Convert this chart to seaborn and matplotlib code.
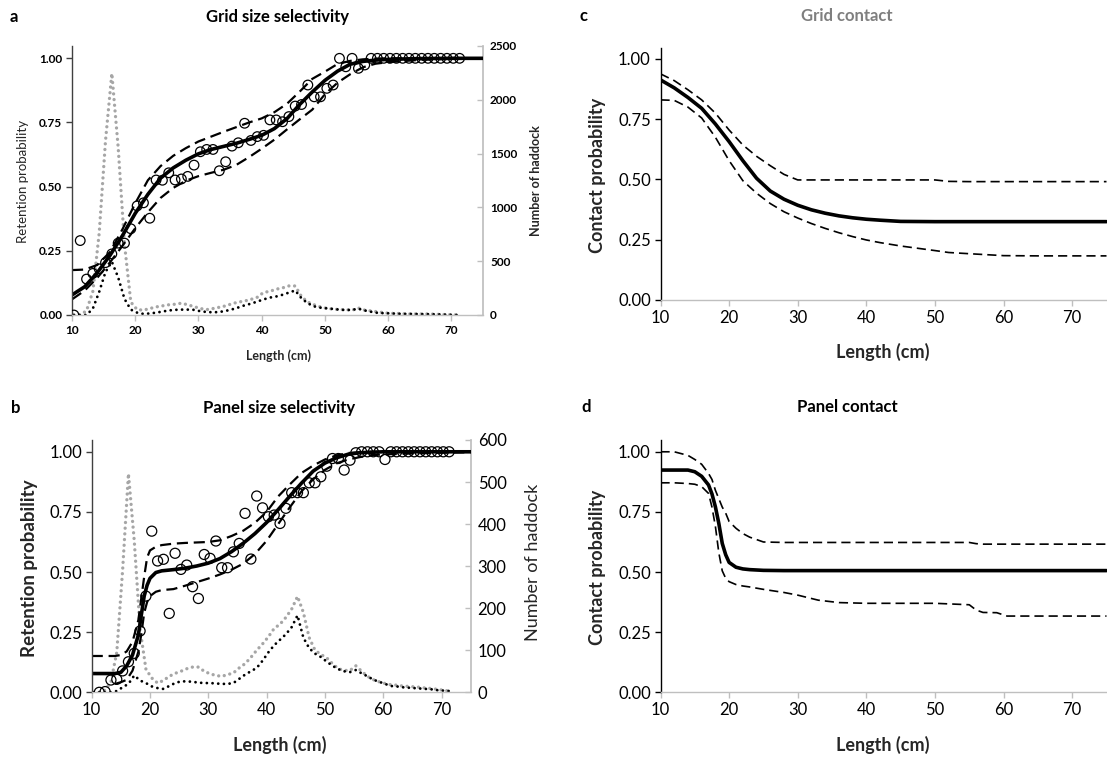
import numpy as np
import pandas as pd
import matplotlib
matplotlib.use("Agg")
import matplotlib.pyplot as plt
from matplotlib.ticker import FormatStrFormatter
import seaborn as sns

sns.set_theme(style="ticks")
plt.rcParams['font.family'] = ['Lato', 'DejaVu Sans']

# length classes (cm) used for observed retention and catch numbers
lengths = np.arange(10.3, 71.4, 1.0)

# ---- panel a: grid size selectivity ----
ret_a = [0.00, 0.29, 0.14, 0.162, 0.18, 0.204, 0.238, 0.28, 0.28, 0.336,
         0.425, 0.437, 0.377, 0.526, 0.525, 0.554, 0.526, 0.53, 0.54, 0.584,
         0.636, 0.645, 0.645, 0.562, 0.597, 0.658, 0.671, 0.747, 0.68, 0.695,
         0.70, 0.76, 0.76, 0.753, 0.773, 0.814, 0.82, 0.896, 0.85, 0.85,
         0.883, 0.896, 1.0, 0.967, 1.0, 0.961, 0.974, 1.0, 1.0, 1.0,
         1.0, 1.0, 1.0, 1.0, 1.0, 1.0, 1.0, 1.0, 1.0, 1.0, 1.0, 1.0]
grey_a = [0, 0, 40, 220, 760, 1620, 2245, 1560, 660, 120,
          50, 45, 60, 75, 85, 95, 100, 110, 95, 78,
          60, 50, 60, 72, 85, 105, 120, 130, 145, 165,
          210, 220, 240, 252, 270, 270, 170, 120, 95, 75,
          62, 55, 50, 50, 45, 65, 45, 38, 30, 22,
          15, 15, 12, 10, 10, 10, 10, 8, 5, 4, 2, 0]
black_a = [0, 0, 0, 60, 215, 400, 495, 350, 150, 50,
           22, 10, 14, 22, 32, 42, 48, 50, 50, 48,
           35, 28, 25, 28, 38, 52, 70, 90, 105, 125,
           145, 162, 172, 188, 208, 228, 155, 108, 80, 68,
           62, 56, 50, 46, 48, 58, 42, 30, 20, 17,
           15, 12, 10, 10, 9, 8, 7, 6, 5, 3, 1, 0]
fit_a_x = [10, 12, 14, 16, 18, 20, 22, 24, 26, 28, 30, 32, 34, 36, 38, 40,
           42, 44, 46, 48, 50, 52, 54, 56, 58, 60, 65, 70, 75]
fit_a = [0.078, 0.11, 0.165, 0.232, 0.31, 0.396, 0.47, 0.533, 0.573, 0.603,
         0.628, 0.645, 0.657, 0.669, 0.684, 0.70, 0.726, 0.765, 0.82, 0.869,
         0.914, 0.95, 0.977, 0.988, 0.993, 0.996, 0.999, 1.0, 1.0]
up_a = [0.175, 0.177, 0.195, 0.245, 0.335, 0.435, 0.525, 0.58, 0.62, 0.65,
        0.676, 0.695, 0.714, 0.732, 0.75, 0.766, 0.79, 0.823, 0.87, 0.92,
        0.948, 0.978, 0.99, 0.996, 0.999, 1.0, 1.0, 1.0, 1.0]
lo_a = [0.061, 0.095, 0.145, 0.205, 0.27, 0.338, 0.40, 0.456, 0.495, 0.523,
        0.541, 0.554, 0.566, 0.585, 0.615, 0.648, 0.683, 0.723, 0.762, 0.80,
        0.86, 0.905, 0.938, 0.965, 0.979, 0.985, 0.994, 0.998, 1.0]

# ---- panel b: panel size selectivity ----
ret_b = [np.nan, 0.0, 0.003, 0.051, 0.054, 0.089, 0.127, 0.162, 0.255, 0.40,
         0.67, 0.546, 0.553, 0.328, 0.578, 0.511, 0.529, 0.439, 0.39, 0.573,
         0.557, 0.629, 0.518, 0.518, 0.584, 0.619, 0.744, 0.554, 0.816, 0.767,
         0.73, 0.737, 0.702, 0.765, 0.83, 0.83, 0.83, 0.871, 0.871, 0.896,
         0.94, 0.972, 0.972, 0.924, 0.965, 0.996, 1.0, 1.0, 1.0, 1.0,
         0.968, 1.0, 1.0, 1.0, 1.0, 1.0, 1.0, 1.0, 1.0, 1.0, 1.0, 1.0]
grey_b = [0, 0, 5, 25, 95, 290, 520, 360, 150, 55,
          34, 22, 28, 38, 45, 50, 56, 60, 60, 50,
          44, 40, 38, 42, 46, 58, 68, 83, 100, 115,
          132, 152, 162, 178, 198, 228, 190, 130, 100, 90,
          82, 68, 56, 52, 52, 63, 50, 38, 30, 25,
          21, 18, 17, 15, 14, 13, 12, 10, 9, 7, 5, 3]
black_b = [0, 0, 0, 0, 3, 12, 20, 40, 28, 22,
           14, 10, 8, 15, 22, 26, 26, 25, 23, 22,
           22, 21, 20, 20, 22, 32, 42, 50, 58, 75,
           95, 112, 125, 138, 155, 183, 130, 105, 92, 84,
           73, 63, 55, 50, 48, 53, 45, 38, 30, 25,
           20, 15, 14, 12, 11, 10, 9, 8, 7, 5, 4, 3]
fit_b_x = [10, 14, 15, 16, 17, 18, 18.5, 19, 19.5, 20, 21, 22, 24, 26, 28, 30,
           32, 34, 36, 38, 40, 42, 44, 46, 48, 50, 52, 54, 56, 58, 60, 65, 70, 75]
fit_b = [0.078, 0.078, 0.083, 0.11, 0.155, 0.238, 0.32, 0.40, 0.445, 0.474,
         0.498, 0.505, 0.51, 0.516, 0.525, 0.537, 0.556, 0.585, 0.62, 0.66,
         0.706, 0.76, 0.816, 0.87, 0.92, 0.953, 0.975, 0.99, 0.996, 0.998,
         1.0, 1.0, 1.0, 1.0]
up_b = [0.151, 0.151, 0.155, 0.17, 0.21, 0.30, 0.39, 0.48, 0.56, 0.59,
        0.605, 0.612, 0.618, 0.621, 0.623, 0.625, 0.632, 0.65, 0.672, 0.705,
        0.75, 0.815, 0.865, 0.912, 0.943, 0.968, 0.985, 0.995, 0.998, 1.0,
        1.0, 1.0, 1.0, 1.0]
lo_b = [np.nan, 0.035, 0.042, 0.052, 0.09, 0.169, 0.24, 0.33, 0.375, 0.40,
        0.418, 0.425, 0.429, 0.443, 0.458, 0.473, 0.49, 0.51, 0.535, 0.575,
        0.63, 0.70, 0.77, 0.836, 0.886, 0.925, 0.952, 0.968, 0.978, 0.986,
        0.989, 0.993, 0.996, 0.998]

# ---- panel c: grid contact ----
fit_c_x = [10, 12, 14, 16, 18, 20, 22, 24, 26, 28, 30, 32, 34, 36, 38, 40,
           42, 45, 50, 52, 55, 60, 65, 70, 75]
fit_c = [0.913, 0.88, 0.84, 0.795, 0.73, 0.657, 0.578, 0.505, 0.452, 0.418,
         0.393, 0.374, 0.36, 0.349, 0.341, 0.335, 0.331, 0.326, 0.325, 0.325,
         0.325, 0.325, 0.325, 0.325, 0.325]
up_c = [0.938, 0.91, 0.872, 0.83, 0.775, 0.705, 0.643, 0.596, 0.557, 0.521,
        0.498, 0.498, 0.498, 0.498, 0.498, 0.498, 0.498, 0.498, 0.498, 0.492,
        0.491, 0.491, 0.491, 0.491, 0.491]
lo_c = [0.83, 0.828, 0.80, 0.755, 0.675, 0.578, 0.495, 0.443, 0.40, 0.366,
        0.34, 0.317, 0.297, 0.279, 0.263, 0.249, 0.238, 0.224, 0.205, 0.197,
        0.192, 0.184, 0.183, 0.183, 0.183]

# ---- panel d: panel contact ----
fit_d_x = [10, 12, 14, 15, 16, 17, 17.5, 18, 18.5, 19, 19.5, 20, 21, 22, 23, 25,
           28, 30, 33, 36, 40, 50, 55, 56, 57, 59, 60.5, 65, 70, 75]
fit_d = [0.924, 0.924, 0.924, 0.917, 0.898, 0.862, 0.825, 0.771, 0.702, 0.619,
         0.572, 0.54, 0.52, 0.513, 0.51, 0.507, 0.506, 0.506, 0.506, 0.506,
         0.506, 0.506, 0.506, 0.506, 0.506, 0.506, 0.506, 0.506, 0.506, 0.506]
up_d = [1.0, 1.0, 0.985, 0.968, 0.948, 0.91, 0.885, 0.84, 0.805, 0.77,
        0.745, 0.71, 0.682, 0.66, 0.645, 0.625, 0.623, 0.623, 0.623, 0.623,
        0.623, 0.623, 0.623, 0.618, 0.616, 0.616, 0.616, 0.616, 0.616, 0.616]
lo_d = [0.871, 0.871, 0.868, 0.865, 0.855, 0.827, 0.77, 0.69, 0.58, 0.505,
        0.474, 0.46, 0.448, 0.442, 0.438, 0.428, 0.415, 0.404, 0.383, 0.373,
        0.37, 0.37, 0.364, 0.342, 0.332, 0.331, 0.317, 0.317, 0.317, 0.317]

GREY = '#A6A6A6'
AXGREY = '#BFBFBF'
W, H = 1107, 761
fig = plt.figure(figsize=(W / 100, H / 100), dpi=100)


def box(l, r, t, b):
    return [l / W, 1 - b / H, (r - l) / W, (b - t) / H]


def curves(ax, x, fit, up, lo, lw_fit, lw_dash, dash):
    sns.lineplot(x=x, y=up, ax=ax, color='black', linewidth=lw_dash,
                 linestyle=(0, dash), estimator=None)
    sns.lineplot(x=x, y=lo, ax=ax, color='black', linewidth=lw_dash,
                 linestyle=(0, dash), estimator=None)
    sns.lineplot(x=x, y=fit, ax=ax, color='black', linewidth=lw_fit,
                 estimator=None)


def base_axes(ax, ytop, left_col, fs, bold):
    ax.set_xlim(10, 75)
    ax.set_ylim(0, ytop)
    ax.set_xticks([10, 20, 30, 40, 50, 60, 70])
    ax.set_yticks([0, 0.25, 0.5, 0.75, 1.0])
    ax.yaxis.set_major_formatter(FormatStrFormatter('%.2f'))
    for s in ['top', 'right']:
        ax.spines[s].set_visible(False)
    ax.spines['bottom'].set_color(AXGREY)
    ax.spines['left'].set_color(left_col)
    ax.spines['bottom'].set_linewidth(1.0)
    ax.spines['left'].set_linewidth(1.0)
    ax.tick_params(axis='x', colors=AXGREY, labelcolor='black', labelsize=fs,
                   length=4, width=1, direction='out', pad=3)
    ax.tick_params(axis='y', colors=left_col, labelcolor='black', labelsize=fs,
                   length=4, width=1, direction='out', pad=3)
    if bold:
        for t in ax.get_xticklabels() + ax.get_yticklabels():
            t.set_fontweight('bold')


def count_axes(ax, tw, ymax, step, fs, bold):
    tw.set_ylim(0, ymax)
    tw.set_yticks(list(range(0, ymax + 1, step)))
    for s in ['top', 'left', 'bottom']:
        tw.spines[s].set_visible(False)
    tw.spines['right'].set_color(AXGREY)
    tw.tick_params(axis='y', colors=AXGREY, labelcolor='black', labelsize=fs,
                   length=4, width=1, direction='in', pad=5)
    if bold:
        for t in tw.get_yticklabels():
            t.set_fontweight('bold')
    ax.set_zorder(tw.get_zorder() + 1)
    ax.patch.set_visible(False)


def counts(tw, grey, black, lw):
    sns.lineplot(x=lengths, y=grey, ax=tw, color=GREY, linewidth=lw,
                 linestyle=(0, (0.01, 1.7)), dash_capstyle='round', estimator=None)
    sns.lineplot(x=lengths, y=black, ax=tw, color='black', linewidth=lw * 0.85,
                 linestyle=(0, (0.01, 2.0)), dash_capstyle='round', estimator=None)


# panel a
ax_a = fig.add_axes(box(72, 483, 46, 315))
tw_a = ax_a.twinx()
counts(tw_a, grey_a, black_a, 2.4)
curves(ax_a, fit_a_x, fit_a, up_a, lo_a, 2.6, 1.6, (5, 2.6))
sns.scatterplot(x=lengths, y=ret_a, ax=ax_a, s=48, facecolor='none',
                edgecolor='black', linewidth=0.9, zorder=5)
base_axes(ax_a, 1.048, '#404040', 8.5, True)
count_axes(ax_a, tw_a, 2500, 500, 8.5, True)
ax_a.set_xlabel('Length (cm)', fontsize=9, fontweight='bold')
ax_a.set_ylabel('Retention probability', fontsize=9.5)
tw_a.set_ylabel('Number of haddock', fontsize=9, fontweight='bold')

# panel b
ax_b = fig.add_axes(box(91.7, 470.7, 440, 692.3))
tw_b = ax_b.twinx()
counts(tw_b, grey_b, black_b, 2.4)
curves(ax_b, fit_b_x, fit_b, up_b, lo_b, 2.6, 1.6, (5, 2.6))
sns.scatterplot(x=lengths, y=ret_b, ax=ax_b, s=52, facecolor='none',
                edgecolor='black', linewidth=0.9, zorder=5)
base_axes(ax_b, 1.049, '#404040', 12, False)
count_axes(ax_b, tw_b, 600, 100, 12, False)
ax_b.set_xlabel('Length (cm)', fontsize=13, fontweight='bold')
ax_b.set_ylabel('Retention probability', fontsize=13.5, fontweight='bold')
tw_b.set_ylabel('Number of haddock', fontsize=13)

# panel c
ax_c = fig.add_axes(box(660.5, 1106.5, 48.3, 300))
curves(ax_c, fit_c_x, fit_c, up_c, lo_c, 2.6, 1.2, (5.5, 3))
base_axes(ax_c, 1.044, 'black', 12, False)
ax_c.set_xlabel('Length (cm)', fontsize=13, fontweight='bold')
ax_c.set_ylabel('Contact probability', fontsize=13, fontweight='bold')

# panel d
ax_d = fig.add_axes(box(660.5, 1106.5, 440, 692.3))
curves(ax_d, fit_d_x, fit_d, up_d, lo_d, 2.6, 1.2, (5.5, 3))
base_axes(ax_d, 1.049, 'black', 12, False)
ax_d.set_xlabel('Length (cm)', fontsize=13, fontweight='bold')
ax_d.set_ylabel('Contact probability', fontsize=13, fontweight='bold')


def place_labels(ax, l, r, t, b, xl, yl, tw=None, yr=None):
    w, h = r - l, b - t
    ax.xaxis.set_label_coords((xl[0] - l) / w, (b - xl[1]) / h)
    ax.xaxis.label.set_va('center')
    ax.yaxis.set_label_coords((yl[0] - l) / w, (b - yl[1]) / h)
    ax.yaxis.label.set_va('center')
    if tw is not None:
        tw.yaxis.set_label_coords((yr[0] - l) / w, (b - yr[1]) / h)
        tw.yaxis.label.set_va('center')


place_labels(ax_a, 72, 483, 46, 315, (278, 356), (23, 181), tw_a, (536, 181))
place_labels(ax_b, 91.7, 470.7, 440, 692.3, (280, 745), (30, 568), tw_b, (533, 562))
place_labels(ax_c, 660.5, 1106.5, 48.3, 300, (883, 352), (597, 175))
place_labels(ax_d, 660.5, 1106.5, 440, 692.3, (883, 745), (597, 567))

# titles and panel letters
titles = [('a', 14, 17, 'black'), ('b', 16, 408, 'black'),
          ('c', 584, 16, 'black'), ('d', 586, 407, 'black')]
for txt, x, y, c in titles:
    fig.text(x / W, 1 - y / H, txt, ha='center', va='center', fontsize=12,
             fontweight='bold', color=c)
heads = [('Grid size selectivity', 278, 17, 'black'),
         ('Panel size selectivity', 279, 408, 'black'),
         ('Grid contact', 847, 16, '#7F7F7F'),
         ('Panel contact', 847, 407, 'black')]
for txt, x, y, c in heads:
    fig.text(x / W, 1 - y / H, txt, ha='center', va='center', fontsize=12,
             fontweight='bold', color=c)

fig.savefig('out.png', dpi=100)
